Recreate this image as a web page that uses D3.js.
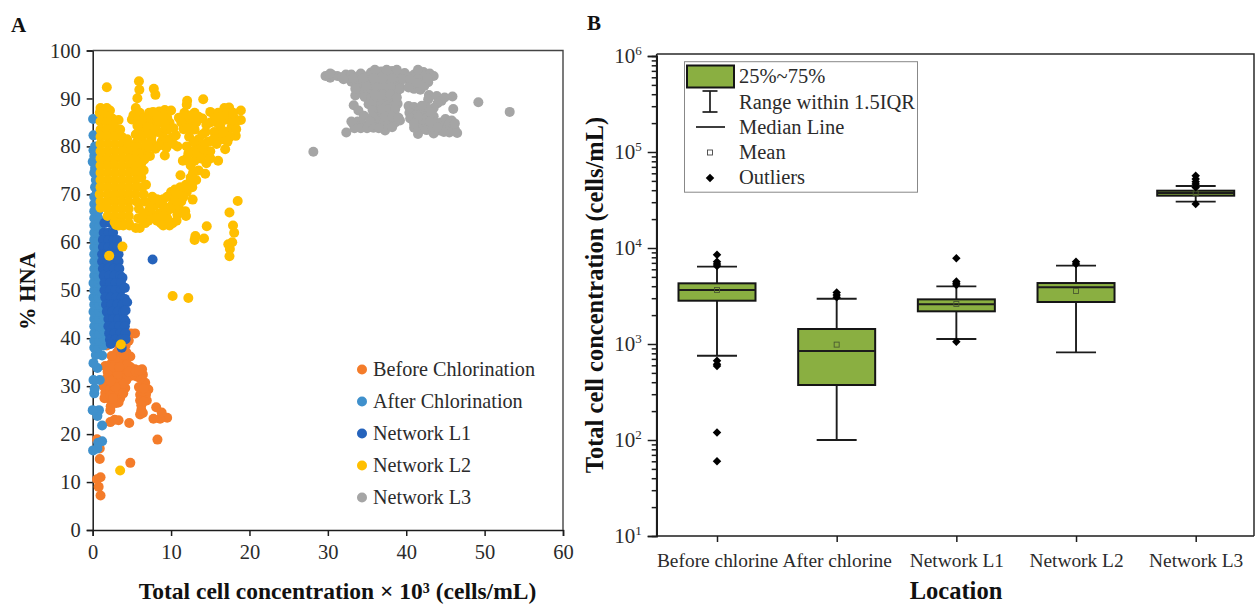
<!DOCTYPE html>
<html><head><meta charset="utf-8">
<script src="https://cdn.jsdelivr.net/npm/d3@7/dist/d3.min.js"></script>
<style>
html,body{margin:0;padding:0;background:#fff;overflow:hidden}
svg{display:block}
text{font-family:"Liberation Serif",serif}
</style></head><body>
<svg id="chart" width="1255" height="604"></svg>
<script>
const scatterNames = ["Before Chlorination","After Chlorination","Network L1","Network L2","Network L3"];
const scatterColors = ["#F47C2A","#3F90CC","#2563BC","#FFBF00","#A5A5A5"];

const beforePoints = [[8.26,18.85],[9.5,23.4],[8.6,23.2],[7.75,23.2],[8.8,24.5],[8.1,25.6],[6.4,24.4],[6.05,24.1],[4.66,22.3],[3.3,22.9],[2.25,22.5],[2.8,23],[4.8,14],[0.9,14.8],[1,7.2],[0.76,9],[1,11],[0.55,10.6],[0.55,18.9],[0.9,17],
[7.1,29.3],[6.8,28.2],[6.9,27],[6.05,28.2],[6.05,27],[6.5,26.8],[6.7,30.7],[6.4,32.4],[6.05,31.7],[5.4,33.5],[4.8,34],[5.6,32],[5,32.2],[3.9,32],[4.15,29.6],[3.5,27.5],[3.3,26.6],[2.25,25],[2.5,26.5],[1.6,28.6],[1.4,30],[1.8,31.7],[1.6,34.2],[2.25,34.5],[3.1,37],[4.8,36.2],[3.9,35.5],[2.9,30.7],[2.6,32.5],[2,27.5],[2.9,28],[2.2,29.5],[3.4,29],[3.3,31],[3,33],[3.7,33.5],[3.2,35],[4.3,37],[3.6,37],[4.4,34.5],[4.2,38.5],[4.9,41],[5.4,41],[1.8,38.5],[4.6,39.5],[6.3,33.5],[5.9,29.8],[6.2,26],
[4.6,32],[2.4,30],[2.7,29],[1.9,33],[4.3,31.3],[4.6,33],[3.9,30.5],[1.5,27.5],[2.3,28],[3,26.5],[2.8,35.5],[2.4,36.3],[3.4,38],[6.5,29.5],[5.5,33],[2.9,29.8],[3.2,32.5],[2.3,31],[2.7,34],[3.4,34],[4,36.5],[5.9,33.3],[3.9,28.5],[6.2,25],[2.3,25.8],[2.6,27.4]];

const afterPoints = [[0.05,16.6],[0.6,17],[1.2,18.5],[0.7,18.2],[1.2,21.8],[0.6,23.8],[0.8,25],[0,25],[0.2,28.5],[0.25,29.5],[0.9,31.3],[0.1,31.3],[0.6,33.8],[0.1,34.8],[1.2,36.4],[0.4,36.5],
[0.2,38],[0.7,38],[1.4,38.5],[0.2,39.5],[0.8,39.5],[1.4,40],[0.2,41],[0.8,41],[1.5,41.5],[0.2,42.5],[0.8,42.5],[1.4,43],[0.2,44],[0.8,44],[1.4,44.5],[0.1,45.5],[0.8,45.5],[1.4,46],[0.2,47],[0.8,47],[1.3,47.5],[0.1,48.5],[0.7,48.5],[1.2,49],[0.2,50],[0.7,50],[1.2,50.5],[0.1,51.5],[0.7,51.5],[1.1,52],[0.2,53],[0.7,53],[0.2,54.5],[0.7,54.5],[0.2,56],[0.7,56],[0.2,57.5],[0.7,57.5],[0.2,59],[0.7,59],[0.2,60.5],[0.7,60.5],[0.2,62],[0.7,62],[0.2,63.5],[0.8,63.5],[0.2,65],[0.7,65],[0.2,66.5],[0.7,66.5],[0.2,68],[0.6,68],[0.2,69.5],[0.5,70],[0.3,71.5],[0.4,73],[0.2,74.5],[0.3,75.5],[0,76.8],[0.2,78],[0.1,79.2],[0.3,80],[0.1,82.3],[0.05,85.7]];

const networkL1Points = [[1.4,62],[2,62],[2.6,62],[1.3,60.5],[2,60.5],[2.7,60.5],[3.1,60.5],[1.3,59],[2,59],[2.7,59],[3.2,59],[1.2,57.5],[1.9,57.5],[2.6,57.5],[3.3,57.5],[1.2,56],[1.9,56],[2.6,56],[3.3,56],[1.3,54.5],[2,54.5],[2.7,54.5],[3.4,54.5],[1.4,53],[2.1,53],[2.8,53],[3.5,53],[3.8,52.6],[1.5,51.5],[2.2,51.5],[2.9,51.5],[3.6,51.5],[1.5,50],[2.2,50],[2.9,50],[3.6,50],[4.1,50.5],[1.6,48.5],[2.3,48.5],[3,48.5],[3.7,48.5],[4.1,48.2],[1.7,47],[2.4,47],[3.1,47],[3.8,47],[4.4,47.5],[1.8,45.5],[2.5,45.5],[3.2,45.5],[3.9,45.5],[4.2,45.8],[2,44],[2.6,44],[3.3,44],[4,44],[4.2,43.5],[2,42.5],[2.7,42.5],[3.4,42.5],[4.1,42.5],[2.1,41],[2.8,41],[3.5,41],[4.2,41],[2.2,39.7],[2.9,39.7],[3.6,39.7],[4.2,39.8],[2.3,38.8],[3.7,38],[7.64,56.4],[1.5,64],[2.3,64],[3,63.5]];

const networkL2Points = [[1.8,92.35],[5.9,93.6],[5.95,91.8],[5.7,90.05],[7.8,92],[8,90.75],[14.1,89.85],[12.05,89.5],[12,88.7],[18.9,87.5],[17.4,88.1],[16.8,88],[18.9,85.5],[18.25,82.2],[16.9,79.4],[16,77],[14.35,74.3],[12.75,68.9],[18.5,68.6],[17.45,66.2],[17.9,63.5],[18.05,62],[17.8,60],[17.3,59.6],[17.5,58.6],[17.45,57.1],[14.55,63.35],[13.1,61.3],[13,60.5],[14.2,60.8],[3.8,59.1],[2.1,57.2],[9.2,78.1],[10.2,48.8],[12.2,48.4],[3.6,38.7],[3.5,12.4],
[5.5,88],[5.2,86.5],[5,85.6],[6,87],[6.5,84.5],[7.2,87],[7.5,85.5],[8,84],[8.5,87.3],[9.2,87.6],[9.5,86],[10,87.5],[9.8,85],[8.9,83],[7.5,82],[6.2,83],[5.5,82.5],[6,81.5],[6.8,80.5],[7.5,81],[8,79.5],[7.3,78],[8.3,83],[9,82],[9.5,83.5],[10.1,81.8],[10.6,82.3],[10.8,80],[8.8,81],[9.8,80.8],[11,86],[11.7,87],[12,85.5],[12.5,84.5],[13,87],[13.2,85],[14,85.8],[13,83.5],[12.3,82],[13.5,81.5],[14.4,83],[14.8,81],[15,87.2],[15.8,85],[15.5,83],[16.3,84],[16.8,85.5],[17,83],[17.4,85.5],[17.7,84],[17.5,82],[16.5,81.5],[16,82.5],[15.8,80.5],[15,79],[14.5,78.5],[13.6,79],[12,80],[12.7,79],[11.5,77],[12,77.5],[13,77],[13.5,75],[12.8,74.5],[11.2,74],[12.5,73.5],[12.7,71.5],[12,70.5],[11,70],[10,70.5],[10.2,68],[11,67],[11.8,66.5],[11.9,65.5],[10.7,64.5],[10.2,64],[9.5,65],[9,63.5],[9.5,66.5],[8.5,66],[7.8,67.5],[7.5,66],[7,66],[6.7,64],[6,63],[5.8,65],[5.9,67],[6.6,68.5],[6.5,70],[6.8,72],[6.2,73.5],[6.5,75],[5.5,63],[8,65],[7.2,68.2],[8.6,68],[9.1,67.5],
[5.8,86],[6.8,86],[7.7,87.2],[8.2,86],[8.9,86],[6.3,85.5],[7,84],[7.8,83.5],[8.6,85],[9.2,84.5],[10.3,83.8],[6.4,82.2],[7,82.7],[5.7,84.3],[5.6,80.8],[5.8,79.8],[6.5,79],[7.1,79.8],[8.5,80.2],[9.4,79.7],[10.3,80.5],[11.3,85],[11.6,83.6],[12.1,83.8],[12.6,86.5],[13.5,86.2],[14.5,84.5],[14,82.5],[15,85],[15.5,86.5],[16,87],[16.3,86],[17.2,86.8],[18,86],[18.2,85],[17.9,87],[18.3,83.6],[17.2,81],[16.6,83],[15.4,81.5],[14.3,80.5],[14,79.5],[13.2,80.5],[12.9,81],[12.2,78.5],[13.3,78],[12.5,76],[13.2,73],[12.4,72.5],[11.9,72],[11.2,71.5],[10.5,71],[9.5,69.5],[9,69],[10.5,69],[11.3,68.5],[11.6,69.5],[8.2,69],[7.6,69.5],[7.2,66.8],[8.2,64.5],[8.7,64],[9.8,63.5],[10.8,65.8],[9.9,67],[9,65.5],[6.5,66],[7.1,64.5],[6.3,64.8],[6.3,71.5],[6.2,76.5],[5.9,78.5],[6.6,77.3],[15,77.5],[14.5,76.5],[13.8,77.5],
[1,88],[1.8,88],[2.2,87.5],[0.9,87],[1.6,86.5],[2.5,85.8],[3.3,85.5],[1,85.2],[1.8,85],[2.6,84.5],[1,83.5],[1.8,83.5],[2.7,83.2],[3.5,83.5],[1,82],[1.9,82],[2.8,82],[3.7,82],[4.4,81.5],[1,80.5],[1.9,80.5],[2.8,80.5],[3.7,80.5],[4.5,80.5],[5.2,79.8],[1,79],[1.9,79],[2.8,79],[3.7,79],[4.6,79],[5.3,78],[1,77.5],[1.9,77.5],[2.8,77.5],[3.7,77.5],[4.6,77.5],[5.5,77],[1,76],[1.9,76],[2.8,76],[3.7,76],[4.6,76],[5.5,75.8],[1,74.5],[1.9,74.5],[2.8,74.5],[3.7,74.5],[4.6,74.5],[5.5,74.5],[1,73],[1.9,73],[2.8,73],[3.7,73],[4.6,73],[5.5,73],[1,71.5],[1.9,71.5],[2.8,71.5],[3.7,71.5],[4.6,71.5],[5.5,71.5],[0.9,70],[1.9,70],[2.8,70],[3.7,70],[4.6,70],[5.5,70],[1,68.5],[1.9,68.5],[2.8,68.5],[3.7,68.5],[4.6,68.5],[5.6,68.5],[1,67.2],[1.9,67],[2.8,67],[3.7,67],[4.6,67],[1.9,65.5],[2.8,65.5],[3.7,65.5],[4.6,65.5],[2.8,64.2],[3.7,64],[4.6,64],[3,63.6],[3.9,63.5],[4.7,63.5],[3.3,63.5]];

const networkL3Points = [[28.15,78.9],[32.35,82.9],[49.2,89.2],[53.2,87.2],
[29.7,94.7],[30.3,94.3],[30.5,95],[31.2,94.7],[31.8,94.4],[32.3,95],[33,95],[33.6,94.4],[34.2,95.2],[34.9,94.6],[35.5,95.4],[36.2,94.8],[36.8,95.6],[37.5,95],[38.2,95.7],[39,95],[39.8,95.3],[40.4,94.5],[41,95],[41.7,94.5],[42.2,95.5],[43,95.2],[43.5,94.7],[41.5,96],[36,96],[37.5,96],[38.8,96],
[33,93.5],[33.8,93],[34.5,93.5],[35.2,93],[36,93.5],[36.8,93],[37.5,93.5],[38.3,93],[39,93.6],[39.2,92.5],[40.5,93],[41.2,93],[42,93.4],[42.8,93.4],[41,92],[41.8,91.8],[42.3,92.6],
[34.2,91.6],[35,91.8],[35.7,91.5],[36.5,91.8],[37.3,91.4],[38,91.7],[38.8,91.4],[33.5,90.6],[34.7,90.3],[35.5,90],[36.3,90],[37,90],[37.8,90],[38.6,90],[35.2,88.8],[36,88.5],[36.8,88.5],[37.6,88.5],[38.4,88.5],[38.9,88.9],[33.3,88.6],[33.9,87.5],[36.2,87],[37,87],[37.8,87],[38.5,87],[34.6,86.4],[36.3,85.6],[37,85.6],[37.8,85.6],[38.5,85.5],[33.8,85.2],[34.5,84.5],[35.2,84.6],[36.3,84.5],[37,84.5],[37.8,84.5],[38.6,85],[39.2,85.4],[34.2,83.8],[35,83.8],[35.8,83.9],[37.3,83.3],
[34,92],[33.5,92],[36,92.6],[37,92.5],[38,92.4],[34.9,92.6],[36,90.8],[37,90.8],[38,90.8],[38.8,90.2],[35.7,87.6],[35.7,86.3],[35.4,85.2],[36.9,87.8],[37.8,87.8],[38.6,87.8],[37.3,86.2],[38.2,86.2],[39,86],[33.2,84.8],[33.4,83.8],[33,85.2],[36,84],[38.2,84],[36.5,83.8],[39.2,92],[39.6,94],[38.2,94.2],[37,94.2],[35.8,94.2],[34.5,94.2],[33.2,94.2],[40.5,94],[41.5,94],[42.7,94.2],[40.3,92.3],[41.5,93.2],[30.3,95.2],[32,94],
[42.9,90.7],[42.8,89.8],[43.9,90.5],[44.5,89.5],[44.9,90.2],[45.9,90.4],[44,89],[46,87.8],[40.3,88.4],[41,88.2],[41.7,87.7],[42.3,87.5],[43,87.6],[43.5,88],[40.4,87],[41.2,86.5],[42,86],[42.8,86],[43.5,86.3],[40.5,85.8],[41.2,85],[42,84.6],[42.8,84.6],[43.6,85],[44.4,85],[45,85.7],[45.8,85.4],[44.6,84.2],[45.4,84.5],[41.9,83.6],[42.6,83.4],[43.4,83.4],[44.3,83.3],[45,83.4],[46.2,83.5],[46.5,82.8],[45.5,82.9],[41.5,82.6],[43.5,82.7],[44.8,83],[46.2,84.8],
[43.3,84],[44,84],[42.3,85.5],[41,83.9],[43.2,87],[41.5,86],[42.5,88.2],[42,88.5],[41,84.7],[43,85.2]];

const locations = ["Before chlorine","After chlorine","Network L1","Network L2","Network L3"];
const q1Values = [2825,374,2190,2738,35080];
const q3Values = [4285,1433,2917,4315,39540];
const medianValues = [3650,845,2590,3895,37400];
const meanValues = [3650,985,2610,3565,37200];
const whiskerLow = [755,100,1127,818,30430];
const whiskerHigh = [6400,2965,3985,6545,44250];
const outlierValues = [
  [8510,7200,6800,6500,670,617,590,120,60],
  [3430,3240,3060],
  [7800,4470,4285,4120,1058],
  [7210,6800],
  [56600,52300,49000,46400,42800,28700]
];
const boxLegendLabels = ["25%~75%","Range within 1.5IQR","Median Line","Mean","Outliers"];
const xTicksA = [0,10,20,30,40,50,60];
const yTicksA = [0,10,20,30,40,50,60,70,80,90,100];
const decadesB = [1,2,3,4,5,6];

const svg = d3.select("#chart");
const ink = "#1c1c1c";
const labelInk = "#2b2b2b";
const dotR = 5;

// Panel A
const xA = d3.scaleLinear().domain([0,60]).range([92.7,563]);
const yA = d3.scaleLinear().domain([0,100]).range([530,50.5]);
const gA = svg.append("g");
const axA = gA.append("g").attr("transform","translate(0,530)")
  .call(d3.axisBottom(xA).tickValues(xTicksA).tickSize(6).tickPadding(8).tickFormat(d3.format("d")));
const ayA = gA.append("g").attr("transform","translate(92.7,0)")
  .call(d3.axisLeft(yA).tickValues(yTicksA).tickSize(6).tickPadding(6).tickFormat(d3.format("d")));
[axA,ayA].forEach(a=>{a.selectAll("text").attr("font-size",20.5).attr("fill",labelInk);
  a.selectAll("line,path").attr("stroke",ink).attr("stroke-width",1.5);});
gA.append("path").attr("d",`M${xA(0)},${yA(100)}H${xA(60)}V${yA(0)}`).attr("fill","none").attr("stroke","#444").attr("stroke-width",1.4);

[beforePoints,afterPoints,networkL1Points,networkL2Points,networkL3Points].forEach((pts,i)=>{
  gA.append("g").selectAll("circle").data(pts).join("circle")
    .attr("cx",d=>xA(d[0])).attr("cy",d=>yA(d[1])).attr("r",dotR).attr("fill",scatterColors[i]);
});
const legA = d3.scalePoint().domain(scatterNames).range([369.5,497.5]);
scatterNames.forEach((n,i)=>{
  gA.append("circle").attr("cx",362).attr("cy",legA(n)).attr("r",dotR).attr("fill",scatterColors[i]);
  gA.append("text").attr("x",373).attr("y",legA(n)+6).attr("font-size",20.2).attr("fill",labelInk).text(n);
});
gA.append("text").attr("x",337.5).attr("y",598.8).attr("text-anchor","middle").attr("font-size",23.5).attr("font-weight","bold").attr("fill","#111")
  .text("Total cell concentration × 10³ (cells/mL)");
gA.append("text").attr("transform","translate(35,291) rotate(-90)").attr("text-anchor","middle").attr("font-size",22.5).attr("font-weight","bold").attr("fill","#111").text("% HNA");
svg.append("text").attr("x",11).attr("y",32).attr("font-size",21).attr("font-weight","bold").attr("fill","#111").text("A");
svg.append("text").attr("x",587).attr("y",30).attr("font-size",21).attr("font-weight","bold").attr("fill","#111").text("B");

// Panel B
const xB = d3.scalePoint().domain(locations).range([717,1195.7]);
const yB = d3.scaleLog().domain([10,1e6]).range([536,56]);
const gB = svg.append("g");
const minorB = [];
decadesB.slice(0,-1).forEach(k=>{[2,3,4,5,6,7,8,9].forEach(m=>minorB.push(m*Math.pow(10,k)));});
const ayMinor = gB.append("g").attr("transform","translate(656.7,0)")
  .call(d3.axisLeft(yB).tickValues(minorB).tickSize(5).tickFormat(""));
const ayB = gB.append("g").attr("transform","translate(656.7,0)")
  .call(d3.axisLeft(yB).tickValues(decadesB.map(k=>Math.pow(10,k))).tickSize(9).tickPadding(6).tickFormat(""));
ayB.selectAll(".tick text").each(function(d){
  const t=d3.select(this).attr("font-size",21).attr("fill",labelInk).attr("dy","0.32em");
  t.append("tspan").text("10");
  t.append("tspan").attr("font-size",13).attr("dy","-0.6em").text(Math.round(Math.log10(d)));
});
const axB = gB.append("g").attr("transform","translate(0,536)")
  .call(d3.axisBottom(xB).tickSize(6).tickPadding(11));
axB.selectAll("text").attr("font-size",19.4).attr("fill",labelInk);
[ayMinor,ayB,axB].forEach(a=>a.selectAll("line").attr("stroke",ink).attr("stroke-width",1.5));
[ayMinor,ayB,axB].forEach(a=>a.selectAll("path.domain").attr("stroke",ink).attr("stroke-width",1.6));
axB.select("path.domain").attr("d","M656.7,0H1254");
gB.append("path").attr("d",`M656.7,54H1254V536`).attr("fill","none").attr("stroke","#2a2a2a").attr("stroke-width",1.5);
gB.append("path").attr("d",`M656.7,54V536`).attr("fill","none").attr("stroke",ink).attr("stroke-width",1.6);

const green = "#8AAF41";
const diamond = d3.symbol().type(d3.symbolSquare).size(36);
locations.forEach((loc,i)=>{
  const cx=xB(loc), g=gB.append("g");
  const line=(x1,y1,x2,y2,w=1.9)=>g.append("line").attr("x1",x1).attr("y1",y1).attr("x2",x2).attr("y2",y2).attr("stroke",ink).attr("stroke-width",w);
  line(cx,yB(whiskerLow[i]),cx,yB(whiskerHigh[i]));
  line(cx-20,yB(whiskerLow[i]),cx+20,yB(whiskerLow[i]));
  line(cx-20,yB(whiskerHigh[i]),cx+20,yB(whiskerHigh[i]));
  g.append("rect").attr("x",cx-38.5).attr("width",77).attr("y",yB(q3Values[i])).attr("height",yB(q1Values[i])-yB(q3Values[i]))
    .attr("fill",green).attr("stroke","#151515").attr("stroke-width",2);
  line(cx-38.5,yB(medianValues[i]),cx+38.5,yB(medianValues[i]),2);
  g.append("rect").attr("x",cx-2.5).attr("y",yB(meanValues[i])-2.5).attr("width",5).attr("height",5).attr("fill","none").attr("stroke","#4a5a30").attr("stroke-width",0.9);
  g.selectAll("path.o").data(outlierValues[i]).join("path").attr("class","o").attr("d",diamond)
    .attr("transform",d=>`translate(${cx},${yB(d)}) rotate(45)`).attr("fill","#000");
});
gB.append("text").attr("transform","translate(603,295) rotate(-90)").attr("text-anchor","middle").attr("font-size",24.5).attr("font-weight","bold").attr("fill","#111").text("Total cell concentration (cells/mL)");
gB.append("text").attr("x",956).attr("y",598.5).attr("text-anchor","middle").attr("font-size",24.5).attr("font-weight","bold").attr("fill","#111").text("Location");

// Box legend
const leg = gB.append("g");
leg.append("rect").attr("x",684.5).attr("y",61.7).attr("width",233).attr("height",130.5).attr("fill","#fff").attr("stroke","#888").attr("stroke-width",1);
leg.append("rect").attr("x",687).attr("y",65.5).attr("width",47).attr("height",22).attr("fill",green).attr("stroke","#151515").attr("stroke-width",2);
const ll=(x1,y1,x2,y2)=>leg.append("line").attr("x1",x1).attr("y1",y1).attr("x2",x2).attr("y2",y2).attr("stroke",ink).attr("stroke-width",1.7);
ll(710,91,710,112);ll(702.5,91,717.5,91);ll(702.5,112,717.5,112);
ll(696,127,725,127);
leg.append("rect").attr("x",707.5).attr("y",150).attr("width",5).attr("height",5).attr("fill","#fff").attr("stroke","#444").attr("stroke-width",0.9);
leg.append("path").attr("d",diamond).attr("transform","translate(710,178) rotate(45)").attr("fill","#000");
boxLegendLabels.forEach((t,i)=>{
  leg.append("text").attr("x",739).attr("y",[82.5,109,134,159,184][i]).attr("font-size",20.5).attr("fill",labelInk).text(t);
});
</script>
</body></html>
